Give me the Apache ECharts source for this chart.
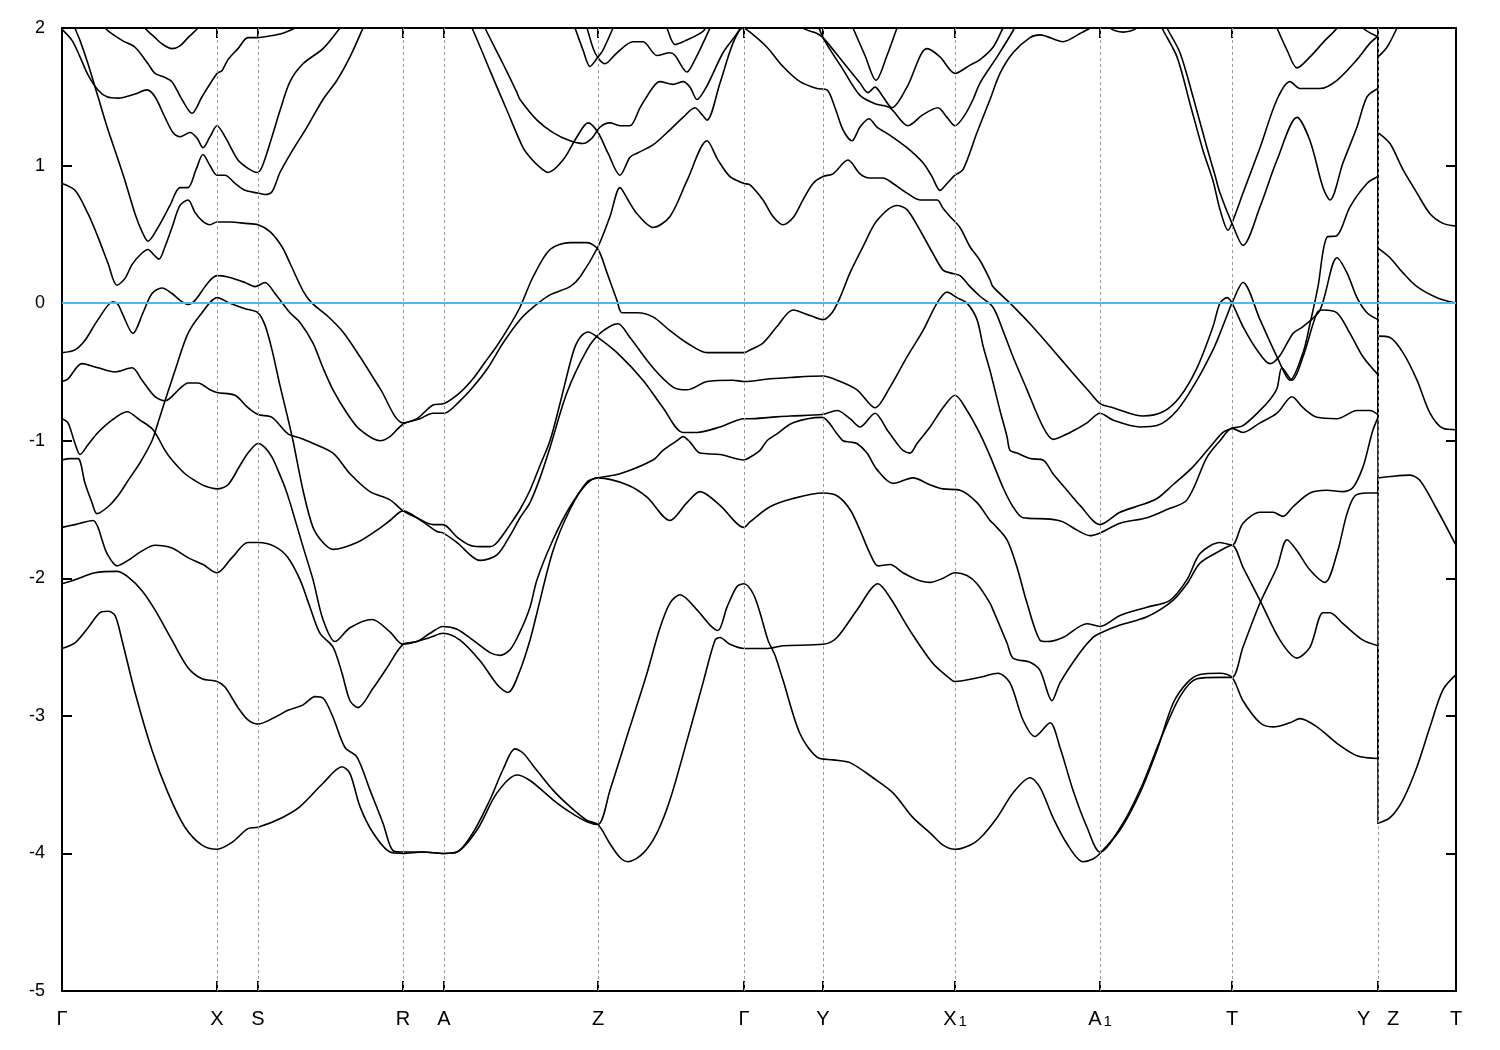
<!DOCTYPE html>
<html><head><meta charset="utf-8">
<script src="https://cdn.jsdelivr.net/npm/echarts@6/dist/echarts.min.js"></script>
<style>html,body{margin:0;padding:0;background:#fff}#c{width:1500px;height:1050px}</style>
</head><body><div id="c"></div>
<script>
const kTicks = [0,155,196,341,382,536,682,761,893,1038,1170,1316,1394];
const kLabels = ['Γ','X','S','R','A','Z','Γ','Y','X_1','A_1','T','Y   Z','T'];
const eMin = -5, eMax = 2;

const bandJ = [[0,-2.51],[13,-2.47],[26,-2.36],[38,-2.25],[46,-2.24],[53,-2.27],[60,-2.45],[73,-2.83],[90,-3.25],[106,-3.56],[123,-3.81],[140,-3.94],[155,-3.97],[170,-3.92],[186,-3.82],[196,-3.81],[220,-3.74],[238,-3.66],[261,-3.49],[280,-3.37],[288,-3.42],[298,-3.66],[311,-3.85],[328,-3.99],[341,-4.0],[361,-3.99],[382,-4.0],[395,-3.99],[411,-3.85],[428,-3.61],[441,-3.39],[453,-3.24],[461,-3.27],[471,-3.36],[491,-3.54],[508,-3.66],[525,-3.76],[536,-3.79],[548,-3.93],[558,-4.03],[566,-4.06],[581,-4.0],[595,-3.85],[608,-3.61],[625,-3.18],[641,-2.76],[653,-2.45],[658,-2.43],[668,-2.48],[682,-2.51],[693,-2.51],[706,-2.51],[721,-2.49],[761,-2.48],[775,-2.43],[795,-2.23],[816,-2.04],[828,-2.14],[848,-2.38],[871,-2.62],[888,-2.73],[893,-2.75],[918,-2.72],[936,-2.69],[948,-2.76],[961,-3.03],[973,-3.15],[988,-3.05],[998,-3.23],[1011,-3.54],[1025,-3.81],[1038,-3.99],[1061,-3.78],[1081,-3.49],[1098,-3.18],[1118,-2.86],[1135,-2.73],[1158,-2.72],[1170,-2.72],[1181,-2.50],[1198,-2.18],[1215,-1.92],[1225,-1.72],[1235,-1.80],[1248,-1.94],[1263,-2.03],[1275,-1.82],[1285,-1.53],[1293,-1.40],[1305,-1.38],[1316,-1.38],[1316,-0.24],[1328,-0.25],[1341,-0.36],[1355,-0.56],[1368,-0.80],[1381,-0.91],[1394,-0.92]];

const bandI = [[0,-2.04],[13,-2.01],[33,-1.96],[55,-1.95],[66,-1.99],[80,-2.09],[93,-2.23],[110,-2.45],[126,-2.65],[140,-2.73],[155,-2.75],[163,-2.79],[176,-2.94],[186,-3.03],[196,-3.06],[213,-3.01],[226,-2.96],[241,-2.92],[253,-2.86],[261,-2.87],[271,-3.01],[283,-3.23],[295,-3.30],[308,-3.54],[321,-3.78],[331,-3.98],[341,-3.99],[361,-3.99],[382,-4.0],[395,-3.99],[415,-3.83],[435,-3.56],[455,-3.43],[468,-3.47],[491,-3.61],[508,-3.70],[525,-3.77],[536,-3.79],[548,-3.54],[568,-3.08],[585,-2.69],[598,-2.36],[608,-2.18],[618,-2.12],[635,-2.23],[648,-2.34],[656,-2.38],[665,-2.21],[675,-2.06],[682,-2.04],[691,-2.11],[698,-2.25],[706,-2.45],[713,-2.56],[721,-2.74],[738,-3.13],[755,-3.30],[771,-3.32],[788,-3.34],[811,-3.45],[831,-3.56],[851,-3.74],[868,-3.85],[881,-3.94],[893,-3.97],[908,-3.94],[918,-3.89],[935,-3.74],[951,-3.56],[968,-3.45],[978,-3.52],[991,-3.74],[1005,-3.93],[1021,-4.06],[1031,-4.04],[1038,-4.0],[1058,-3.83],[1078,-3.56],[1095,-3.25],[1111,-2.91],[1125,-2.76],[1138,-2.70],[1158,-2.69],[1170,-2.72],[1181,-2.89],[1198,-3.05],[1211,-3.08],[1228,-3.05],[1238,-3.02],[1255,-3.08],[1275,-3.20],[1295,-3.29],[1316,-3.31],[1316,-1.27],[1328,-1.26],[1348,-1.25],[1358,-1.29],[1375,-1.50],[1394,-1.76]];

const bandH = [[0,-1.63],[13,-1.61],[31,-1.58],[36,-1.63],[40,-1.72],[45,-1.82],[55,-1.91],[66,-1.87],[78,-1.81],[93,-1.76],[110,-1.78],[126,-1.85],[141,-1.90],[155,-1.96],[170,-1.85],[186,-1.74],[196,-1.74],[213,-1.77],[226,-1.85],[238,-2.01],[248,-2.21],[258,-2.40],[271,-2.50],[280,-2.69],[288,-2.89],[296,-2.94],[311,-2.80],[325,-2.65],[341,-2.48],[355,-2.46],[368,-2.40],[381,-2.35],[395,-2.37],[411,-2.45],[428,-2.54],[438,-2.56],[448,-2.52],[458,-2.39],[468,-2.21],[475,-2.01],[491,-1.72],[508,-1.48],[525,-1.31],[536,-1.27],[565,-1.32],[585,-1.41],[608,-1.58],[625,-1.45],[638,-1.37],[658,-1.47],[682,-1.63],[688,-1.59],[708,-1.48],[731,-1.42],[761,-1.38],[775,-1.40],[788,-1.50],[798,-1.65],[808,-1.82],[816,-1.91],[828,-1.90],[841,-1.96],[855,-2.01],[868,-2.03],[881,-2.00],[893,-1.96],[905,-1.98],[915,-2.04],[928,-2.18],[931,-2.23],[945,-2.47],[951,-2.58],[968,-2.61],[978,-2.67],[990,-2.89],[998,-2.76],[1018,-2.54],[1031,-2.43],[1038,-2.40],[1058,-2.34],[1085,-2.28],[1111,-2.16],[1125,-2.04],[1138,-1.89],[1158,-1.80],[1170,-1.76],[1181,-1.92],[1198,-2.16],[1218,-2.45],[1235,-2.58],[1248,-2.50],[1261,-2.25],[1268,-2.25],[1281,-2.33],[1301,-2.45],[1316,-2.49],[1316,-3.78],[1328,-3.74],[1341,-3.61],[1355,-3.37],[1368,-3.08],[1381,-2.81],[1394,-2.70]];

const bandF = [[0,-0.84],[6,-0.87],[13,-1.02],[18,-1.10],[26,-1.03],[36,-0.94],[50,-0.85],[65,-0.79],[78,-0.85],[91,-0.92],[103,-1.07],[110,-1.14],[123,-1.24],[133,-1.29],[143,-1.33],[155,-1.35],[166,-1.32],[178,-1.18],[186,-1.09],[196,-1.02],[203,-1.05],[210,-1.12],[218,-1.25],[223,-1.34],[228,-1.45],[241,-1.77],[251,-2.01],[261,-2.30],[273,-2.46],[288,-2.36],[310,-2.30],[328,-2.39],[341,-2.48],[368,-2.43],[381,-2.40],[398,-2.45],[418,-2.60],[436,-2.78],[446,-2.83],[458,-2.67],[468,-2.45],[475,-2.25],[491,-1.80],[508,-1.50],[525,-1.30],[536,-1.27],[558,-1.24],[591,-1.14],[601,-1.07],[615,-1.00],[621,-0.97],[628,-1.01],[638,-1.09],[658,-1.10],[682,-1.14],[688,-1.12],[698,-1.07],[705,-1.00],[715,-0.95],[731,-0.87],[760,-0.83],[775,-0.95],[781,-1.00],[788,-1.01],[795,-1.02],[805,-1.09],[815,-1.21],[831,-1.31],[851,-1.27],[868,-1.32],[881,-1.35],[898,-1.36],[915,-1.45],[928,-1.58],[931,-1.60],[945,-1.72],[955,-1.92],[965,-2.18],[978,-2.45],[985,-2.46],[1001,-2.43],[1025,-2.33],[1038,-2.35],[1058,-2.27],[1085,-2.21],[1108,-2.16],[1125,-2.01],[1138,-1.82],[1158,-1.74],[1170,-1.76],[1181,-1.60],[1198,-1.52],[1211,-1.52],[1221,-1.55],[1231,-1.48],[1248,-1.38],[1265,-1.36],[1281,-1.37],[1291,-1.34],[1301,-1.19],[1308,-1.00],[1311,-0.92],[1316,-0.83],[1316,0.40],[1328,0.33],[1341,0.22],[1355,0.12],[1375,0.04],[1394,0.00]];

const bandE = [[0,-0.57],[6,-0.55],[20,-0.44],[36,-0.47],[53,-0.50],[70,-0.47],[80,-0.56],[93,-0.68],[103,-0.71],[118,-0.62],[126,-0.58],[136,-0.58],[148,-0.63],[155,-0.65],[173,-0.67],[186,-0.76],[196,-0.81],[210,-0.83],[226,-0.95],[238,-0.98],[248,-1.01],[271,-1.09],[288,-1.24],[308,-1.37],[328,-1.43],[341,-1.51],[355,-1.56],[371,-1.61],[381,-1.61],[395,-1.70],[408,-1.76],[418,-1.77],[428,-1.77],[435,-1.74],[448,-1.61],[458,-1.50],[468,-1.36],[478,-1.18],[488,-1.00],[498,-0.73],[511,-0.36],[518,-0.25],[526,-0.21],[536,-0.25],[555,-0.36],[581,-0.56],[601,-0.76],[621,-0.94],[635,-0.94],[658,-0.90],[682,-0.84],[688,-0.84],[708,-0.83],[728,-0.82],[760,-0.81],[775,-0.78],[788,-0.84],[798,-0.90],[813,-0.80],[825,-0.92],[835,-1.02],[841,-1.07],[848,-1.09],[855,-1.02],[868,-0.90],[881,-0.76],[893,-0.67],[905,-0.78],[918,-0.95],[928,-1.11],[941,-1.34],[951,-1.48],[961,-1.56],[988,-1.57],[1001,-1.59],[1015,-1.65],[1028,-1.69],[1038,-1.67],[1058,-1.60],[1085,-1.56],[1105,-1.50],[1125,-1.43],[1145,-1.12],[1158,-1.00],[1170,-0.91],[1181,-0.94],[1198,-0.87],[1215,-0.80],[1230,-0.68],[1241,-0.76],[1255,-0.83],[1275,-0.84],[1295,-0.78],[1308,-0.78],[1316,-0.81],[1316,1.24],[1328,1.16],[1341,0.97],[1355,0.80],[1368,0.65],[1381,0.58],[1394,0.56]];

const bandG = [[0,-1.14],[8,-1.13],[16,-1.13],[23,-1.31],[30,-1.45],[35,-1.53],[46,-1.48],[56,-1.40],[66,-1.29],[78,-1.16],[90,-1.00],[96,-0.87],[103,-0.71],[113,-0.49],[126,-0.22],[140,-0.07],[155,0.04],[168,0.00],[183,-0.04],[196,-0.07],[203,-0.16],[210,-0.34],[218,-0.60],[225,-0.81],[231,-1.00],[241,-1.36],[251,-1.63],[261,-1.74],[271,-1.79],[295,-1.74],[315,-1.65],[328,-1.58],[341,-1.51],[361,-1.59],[375,-1.66],[381,-1.67],[395,-1.74],[418,-1.87],[435,-1.83],[448,-1.69],[458,-1.56],[468,-1.45],[478,-1.27],[488,-1.05],[505,-0.65],[525,-0.34],[538,-0.22],[556,-0.15],[568,-0.25],[591,-0.47],[611,-0.61],[625,-0.63],[645,-0.57],[671,-0.56],[682,-0.57],[708,-0.55],[728,-0.54],[761,-0.53],[775,-0.56],[795,-0.63],[813,-0.76],[828,-0.61],[845,-0.39],[861,-0.20],[875,0.00],[885,0.08],[895,0.04],[905,0.00],[915,-0.12],[921,-0.31],[928,-0.49],[938,-0.78],[945,-0.97],[948,-1.07],[955,-1.09],[968,-1.13],[981,-1.14],[991,-1.24],[1005,-1.36],[1018,-1.47],[1038,-1.61],[1058,-1.52],[1078,-1.47],[1095,-1.42],[1111,-1.32],[1131,-1.19],[1151,-1.02],[1161,-0.94],[1170,-0.91],[1181,-0.89],[1198,-0.78],[1208,-0.70],[1215,-0.62],[1220,-0.47],[1230,-0.56],[1241,-0.39],[1255,-0.07],[1261,-0.05],[1275,-0.07],[1288,-0.22],[1301,-0.39],[1316,-0.52],[1316,1.79],[1325,1.86],[1335,2.0],[1343,2.13]];

const bandC = [[0,0.87],[13,0.82],[26,0.65],[36,0.48],[46,0.29],[55,0.13],[63,0.18],[70,0.28],[78,0.35],[86,0.39],[92,0.35],[97,0.32],[103,0.41],[110,0.55],[118,0.71],[126,0.75],[133,0.66],[140,0.60],[148,0.57],[155,0.59],[168,0.59],[183,0.58],[196,0.57],[208,0.52],[220,0.41],[228,0.29],[241,0.09],[250,0.00],[265,-0.09],[281,-0.21],[298,-0.39],[318,-0.62],[341,-0.87],[355,-0.84],[371,-0.74],[382,-0.73],[398,-0.65],[411,-0.55],[423,-0.43],[435,-0.31],[448,-0.16],[458,-0.03],[471,0.19],[488,0.39],[508,0.44],[525,0.44],[536,0.39],[545,0.22],[555,0.02],[560,-0.07],[575,-0.07],[591,-0.10],[608,-0.20],[625,-0.29],[645,-0.36],[658,-0.36],[682,-0.36],[688,-0.34],[701,-0.29],[715,-0.17],[731,-0.05],[748,-0.09],[761,-0.12],[770,-0.07],[778,0.04],[788,0.22],[801,0.41],[815,0.60],[835,0.71],[845,0.68],[858,0.53],[871,0.36],[881,0.24],[888,0.22],[898,0.20],[908,0.12],[918,0.05],[931,-0.03],[941,-0.20],[951,-0.39],[965,-0.63],[981,-0.90],[991,-0.99],[1008,-0.94],[1025,-0.87],[1038,-0.80],[1051,-0.85],[1078,-0.90],[1095,-0.89],[1115,-0.78],[1135,-0.56],[1151,-0.34],[1158,-0.22],[1165,-0.09],[1170,0.00],[1181,0.15],[1198,-0.12],[1215,-0.39],[1228,-0.56],[1241,-0.36],[1248,-0.15],[1256,0.12],[1265,0.48],[1275,0.49],[1288,0.70],[1305,0.87],[1316,0.92],[1316,2.5]];

const bandD = [[0,-0.36],[13,-0.34],[23,-0.27],[36,-0.12],[51,0.01],[56,-0.01],[60,-0.07],[71,-0.22],[81,-0.07],[90,0.07],[100,0.11],[110,0.07],[118,0.02],[126,-0.01],[133,0.02],[143,0.12],[150,0.18],[155,0.20],[166,0.19],[183,0.15],[193,0.12],[203,0.15],[213,0.07],[228,-0.07],[238,-0.14],[251,-0.29],[261,-0.47],[271,-0.63],[285,-0.80],[298,-0.92],[318,-1.00],[328,-0.97],[341,-0.88],[358,-0.84],[371,-0.80],[382,-0.80],[398,-0.71],[411,-0.61],[426,-0.47],[441,-0.29],[458,-0.12],[471,-0.03],[488,0.06],[508,0.12],[518,0.19],[536,0.41],[548,0.63],[558,0.84],[566,0.75],[575,0.65],[591,0.55],[608,0.63],[625,0.89],[645,1.18],[656,1.04],[668,0.92],[682,0.87],[688,0.86],[701,0.75],[711,0.63],[721,0.57],[731,0.62],[741,0.75],[751,0.87],[761,0.92],[771,0.94],[786,1.04],[798,0.94],[808,0.91],[821,0.91],[831,0.87],[845,0.80],[858,0.75],[875,0.75],[881,0.69],[888,0.63],[898,0.55],[908,0.41],[918,0.31],[928,0.17],[931,0.12],[948,0.00],[968,-0.15],[991,-0.34],[1011,-0.51],[1028,-0.65],[1038,-0.73],[1051,-0.76],[1081,-0.82],[1101,-0.79],[1118,-0.68],[1135,-0.47],[1151,-0.17],[1158,0.00],[1165,0.04],[1170,0.00],[1181,-0.17],[1195,-0.34],[1208,-0.44],[1218,-0.38],[1231,-0.22],[1241,-0.17],[1258,-0.05],[1275,0.33],[1285,0.22],[1295,0.04],[1305,-0.07],[1316,-0.12],[1316,2.5]];

const bandZ1 = [[403,2.09],[410,2.0],[428,1.69],[445,1.40],[461,1.13],[468,1.06],[476,1.00],[486,0.95],[501,1.04],[515,1.21],[526,1.31],[536,1.24],[546,1.09],[558,0.93],[568,1.06],[575,1.09],[591,1.15],[608,1.26],[621,1.35],[633,1.42],[640,1.37],[645,1.33],[658,1.60],[671,1.89],[681,2.0],[688,1.97],[705,1.86],[721,1.72],[738,1.61],[755,1.56],[765,1.55],[773,1.42],[781,1.26],[790,1.18],[798,1.28],[807,1.34],[815,1.28],[828,1.22],[845,1.13],[861,1.02],[870,0.92],[878,0.82],[885,0.87],[893,0.93],[901,0.97],[915,1.24],[928,1.48],[938,1.67],[951,1.82],[968,1.93],[978,1.95],[1001,1.90],[1018,1.96],[1028,2.0],[1038,2.06]];
const bandZ2 = [[418,2.09],[423,2.0],[441,1.74],[455,1.53],[458,1.48],[475,1.33],[491,1.24],[508,1.18],[521,1.16],[530,1.20],[538,1.28],[548,1.31],[558,1.29],[568,1.29],[578,1.42],[591,1.57],[598,1.61],[611,1.59],[621,1.61],[628,1.57],[635,1.48],[645,1.58],[661,1.82],[675,1.96],[683,2.06]];
const bandV1 = [[508,2.09],[513,2.0],[521,1.84],[528,1.72],[535,1.78],[541,1.84],[551,2.0],[556,2.09]];
const bandV2 = [[521,2.09],[525,2.0],[533,1.82],[543,1.74],[555,1.82],[571,1.90],[581,1.90],[595,1.80],[608,1.82],[613,1.80],[625,1.68],[633,1.77],[648,2.0],[653,2.09]];
const bandV3 = [[601,2.09],[605,2.0],[613,1.88],[621,1.90],[640,1.97],[648,2.04]];
const bandP1 = [[38,2.09],[43,2.0],[60,1.91],[73,1.86],[86,1.74],[93,1.67],[103,1.64],[110,1.61],[120,1.48],[130,1.38],[140,1.50],[155,1.67],[160,1.69],[166,1.77],[176,1.85],[186,1.93],[196,1.93],[206,1.94],[220,1.96],[233,2.0],[243,2.04]];
const bandP2 = [[76,2.09],[83,2.0],[93,1.93],[101,1.88],[110,1.85],[118,1.87],[126,1.93],[136,2.0],[143,2.07]];
const bandP3 = [[0,1.99],[10,1.91],[18,1.79],[26,1.66],[36,1.55],[45,1.50],[56,1.49],[73,1.52],[85,1.55],[93,1.50],[103,1.35],[111,1.24],[118,1.21],[128,1.24],[135,1.20],[141,1.13],[148,1.21],[155,1.29],[163,1.21],[176,1.04],[186,0.98],[195,0.95],[200,0.99],[210,1.21],[218,1.40],[228,1.61],[241,1.74],[261,1.85],[278,2.0],[285,2.07]];
const bandP4 = [[10,2.09],[13,2.0],[18,1.91],[26,1.74],[36,1.50],[46,1.26],[53,1.11],[63,0.89],[73,0.65],[80,0.52],[86,0.45],[96,0.55],[108,0.71],[118,0.84],[126,0.84],[134,0.97],[141,1.08],[148,1.00],[155,0.93],[163,0.93],[173,0.87],[183,0.82],[196,0.80],[203,0.79],[210,0.81],[218,0.95],[228,1.08],[245,1.28],[261,1.48],[275,1.62],[288,1.79],[301,2.0],[306,2.09]];
const bandU1 = [[733,2.09],[741,2.0],[755,1.96],[761,1.93],[778,1.78],[798,1.60],[806,1.53],[813,1.57],[821,1.50],[830,1.42],[845,1.57],[865,1.85],[878,1.79],[893,1.67],[908,1.73],[918,1.77],[931,1.86],[941,2.0],[948,2.09]];
const bandU2 = [[753,2.09],[761,1.93],[780,1.71],[798,1.51],[813,1.45],[828,1.42],[846,1.29],[861,1.37],[876,1.42],[885,1.35],[893,1.29],[903,1.37],[911,1.48],[918,1.60],[935,1.79],[951,1.98],[958,2.09]];
const bandU3 = [[786,2.09],[791,2.0],[803,1.80],[814,1.62],[825,1.80],[835,2.0],[840,2.09]];
const bandA1top = [[1043,2.09],[1048,2.0],[1061,1.97],[1075,2.0],[1080,2.09]];
const bandL1 = [[1095,2.09],[1100,2.0],[1115,1.79],[1128,1.45],[1141,1.11],[1151,0.89],[1158,0.68],[1166,0.53],[1173,0.64],[1181,0.80],[1198,1.13],[1215,1.48],[1228,1.61],[1238,1.56],[1258,1.56],[1275,1.62],[1295,1.77],[1308,1.89],[1316,1.94],[1316,2.5]];
const bandL2 = [[1100,2.09],[1105,2.0],[1118,1.82],[1131,1.50],[1145,1.13],[1153,0.93],[1158,0.80],[1170,0.58],[1181,0.42],[1198,0.70],[1215,1.04],[1235,1.35],[1248,1.18],[1261,0.84],[1268,0.75],[1281,1.02],[1295,1.28],[1305,1.50],[1316,1.56],[1316,2.5]];
const bandTtop = [[1210,2.09],[1215,2.0],[1225,1.84],[1235,1.71],[1248,1.79],[1263,1.91],[1275,2.0],[1280,2.09]];
const bandYtop = [[1296,2.09],[1301,2.0],[1315,1.94]];

const allBands = [bandJ,bandI,bandH,bandF,bandE,bandG,bandC,bandD,bandZ1,bandZ2,bandV1,bandV2,bandV3,bandP1,bandP2,bandP3,bandP4,bandU1,bandU2,bandU3,bandA1top,bandL1,bandL2,bandTtop,bandYtop];

const FONT = 'Liberation Sans, Arial, Helvetica, sans-serif';
const series = [];
function lineSeries(data, smooth){
  return {type:'line', data:data, symbol:'none', showSymbol:false, smooth: smooth ? 0.3 : false,
    silent:true, animation:false, z:3, clip:true,
    lineStyle:{color:'#000', width:1.6, cap:'round', join:'round'}};
}
allBands.forEach(d => {
  let j = -1;
  for (let i = 0; i < d.length - 1; i++) if (d[i][0] === d[i+1][0]) { j = i; break; }
  const parts = j < 0 ? [d] : [d.slice(0, j+1), d.slice(j+1)];
  parts.forEach(p => { if (p.length > 1) series.push(lineSeries(p, true)); });
  if (j >= 0) series.push(lineSeries([d[j], d[j+1]], false));
});
series.push({type:'line', data:[], silent:true, animation:false, z:1,
  markLine:{silent:true, symbol:['none','none'], animation:false, label:{show:false},
    lineStyle:{color:'#9a9a9a', width:1, type:[3,3]},
    data: kTicks.slice(1, -1).map(v => ({xAxis: v}))}});
series.push({type:'line', data:[], silent:true, animation:false, z:5,
  markLine:{silent:true, symbol:['none','none'], animation:false, label:{show:false},
    lineStyle:{color:'#56b4e9', width:2, type:'solid'},
    data:[{yAxis:0}]}});

function xFmt(v){
  const i = kTicks.indexOf(v);
  if (i < 0) return '';
  const s = kLabels[i];
  if (s.indexOf('_') >= 0) { const p = s.split('_'); return '{n|' + p[0] + '}{s|' + p[1] + '}'; }
  return '{n|' + s + '}';
}
const axisLine = {show:true, onZero:false, lineStyle:{color:'#000', width:2}};
const xTick = {show:true, inside:true, length:10, customValues:kTicks, lineStyle:{color:'#000', width:2}};
const yTick = {show:true, inside:true, length:10, lineStyle:{color:'#000', width:2}};

const chart = echarts.init(document.getElementById('c'), null, {renderer:'canvas'});
chart.setOption({
  animation:false,
  backgroundColor:'#fff',
  grid:{left:62, right:44, top:28, bottom:59, containLabel:false},
  xAxis:[
    {type:'value', position:'bottom', min:0, max:1394, axisLine:axisLine, axisTick:xTick,
     splitLine:{show:false},
     axisLabel:{customValues:kTicks, formatter:xFmt, color:'#000', margin:18, fontFamily:FONT, fontSize:20,
       rich:{ n:{fontSize:20, fontFamily:FONT, color:'#000', lineHeight:20, verticalAlign:'top'},
              s:{fontSize:15, fontFamily:FONT, color:'#000', lineHeight:15, padding:[12,0,0,2], verticalAlign:'bottom'} }}},
    {type:'value', position:'top', min:0, max:1394, axisLine:axisLine, axisTick:xTick,
     splitLine:{show:false}, axisLabel:{show:false}}
  ],
  yAxis:[
    {type:'value', position:'left', min:eMin, max:eMax, interval:1, axisLine:axisLine, axisTick:yTick,
     splitLine:{show:false},
     axisLabel:{color:'#000', fontSize:18, fontFamily:FONT, margin:17}},
    {type:'value', position:'right', min:eMin, max:eMax, interval:1, axisLine:axisLine, axisTick:yTick,
     splitLine:{show:false}, axisLabel:{show:false}}
  ],
  series:series
});
</script>
</body></html>
